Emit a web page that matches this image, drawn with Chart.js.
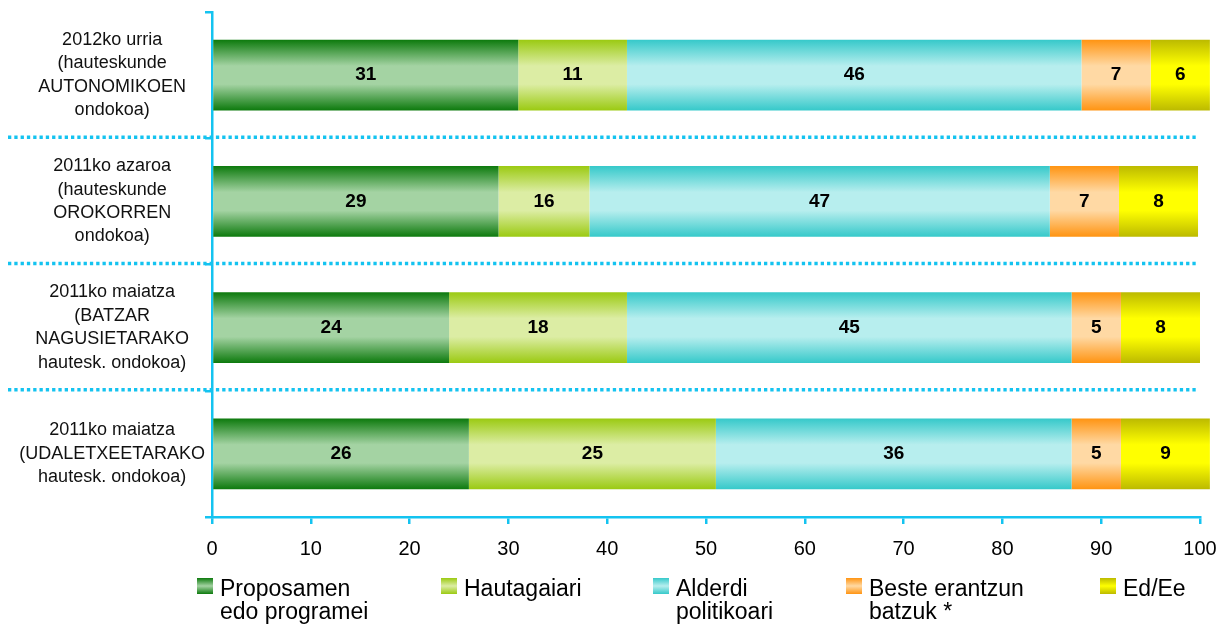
<!DOCTYPE html>
<html>
<head>
<meta charset="utf-8">
<script src="https://cdn.jsdelivr.net/npm/chart.js@4.4.1/dist/chart.umd.min.js"></script>
<style>
  html, body { margin: 0; padding: 0; background: #fff; }
  #wrap { width: 1225px; height: 627px; position: relative; }
</style>
</head>
<body>
<div id="wrap"><canvas id="chart"></canvas></div>
<script>
// categories (multi-line, as in the original)
const categories = [
  ['2012ko urria', '(hauteskunde', 'AUTONOMIKOEN', 'ondokoa)'],
  ['2011ko azaroa', '(hauteskunde', 'OROKORREN', 'ondokoa)'],
  ['2011ko maiatza', '(BATZAR', 'NAGUSIETARAKO', 'hautesk. ondokoa)'],
  ['2011ko maiatza', '(UDALETXEETARAKO', 'hautesk. ondokoa)']
];
const seriesNames = [
  ['Proposamen', 'edo programei'],
  ['Hautagaiari'],
  ['Alderdi', 'politikoari'],
  ['Beste erantzun', 'batzuk *'],
  ['Ed/Ee']
];

// segment lengths as drawn
const proposamen = [31, 29, 24, 26];
const hautagaiari = [11, 9.2, 18, 25];
const alderdi = [46, 46.6, 45, 36];
const beste = [7, 7, 5, 5];
const edEe = [6, 8, 8, 9];

// numbers printed inside the segments
const proposamenTxt = [31, 29, 24, 26];
const hautagaiariTxt = [11, 16, 18, 25];
const alderdiTxt = [46, 47, 45, 36];
const besteTxt = [7, 7, 5, 5];
const edEeTxt = [6, 8, 8, 9];

const xTicks = [0, 10, 20, 30, 40, 50, 60, 70, 80, 90, 100];

const FONT = '"Liberation Sans", Arial, Helvetica, sans-serif';
const CYAN = '#14c3f0';
const BAR_PCT = 0.56;

// dark edge / light middle for each series
const colors = [
  ['#0d7a0d', '#a4d3a3'],
  ['#9bca12', '#dcedA4'],
  ['#36c9ca', '#b7eeee'],
  ['#ff9412', '#ffd9a4'],
  ['#bcba00', '#ffff00']
];

function gradientFill(i) {
  return (ctx) => {
    const chart = ctx.chart;
    const y = chart.scales && chart.scales.y;
    if (ctx.type !== 'data' || !y || !y.height) return colors[i][0];
    const c = y.getPixelForValue(ctx.dataIndex);
    const half = y.height / categories.length * BAR_PCT / 2;
    const g = chart.ctx.createLinearGradient(0, c - half, 0, c + half);
    g.addColorStop(0, colors[i][0]);
    g.addColorStop(0.37, colors[i][1]);
    g.addColorStop(0.63, colors[i][1]);
    g.addColorStop(1, colors[i][0]);
    return g;
  };
}

const values = [proposamen, hautagaiari, alderdi, beste, edEe];
const texts = [proposamenTxt, hautagaiariTxt, alderdiTxt, besteTxt, edEeTxt];

// dotted separators between the categories
const separators = {
  id: 'separators',
  afterDraw(chart) {
    const y = chart.scales.y;
    const c = chart.ctx;
    c.save();
    c.strokeStyle = CYAN;
    c.lineWidth = 3.3;
    c.setLineDash([3.3, 3]);
    for (let i = 0; i < categories.length - 1; i++) {
      const py = (y.getPixelForValue(i) + y.getPixelForValue(i + 1)) / 2 - 1;
      c.beginPath();
      c.moveTo(8, py);
      c.lineTo(chart.chartArea.right - 2, py);
      c.stroke();
    }
    c.restore();
  }
};

// numbers in the middle of each segment
const segmentLabels = {
  id: 'segmentLabels',
  afterDatasetsDraw(chart) {
    const c = chart.ctx;
    c.save();
    c.font = 'bold 19px ' + FONT;
    c.fillStyle = '#000';
    c.textAlign = 'center';
    c.textBaseline = 'middle';
    chart.data.datasets.forEach((ds, i) => {
      chart.getDatasetMeta(i).data.forEach((bar, j) => {
        c.fillText(String(texts[i][j]), (bar.x + bar.base) / 2, bar.y);
      });
    });
    c.restore();
  }
};

// legend with wrapped names
const legendPos = [197, 441, 653, 846, 1100];
const customLegend = {
  id: 'customLegend',
  afterDraw(chart) {
    const c = chart.ctx;
    c.save();
    seriesNames.forEach((lines, i) => {
      const x = legendPos[i], y = 578;
      const g = c.createLinearGradient(0, y, 0, y + 16);
      g.addColorStop(0, colors[i][0]);
      g.addColorStop(0.5, colors[i][1]);
      g.addColorStop(1, colors[i][0]);
      c.fillStyle = g;
      c.fillRect(x, y, 16, 16);
      c.font = '23px ' + FONT;
      c.fillStyle = '#000';
      c.textAlign = 'left';
      c.textBaseline = 'alphabetic';
      lines.forEach((t, k) => c.fillText(t, x + 23, 596 + k * 22.5));
    });
    c.restore();
  }
};

new Chart(document.getElementById('chart'), {
  type: 'bar',
  data: {
    labels: categories,
    datasets: values.map((v, i) => ({
      label: seriesNames[i].join(' '),
      data: v,
      backgroundColor: gradientFill(i),
      borderWidth: 0,
      barPercentage: BAR_PCT,
      categoryPercentage: 1,
      clip: false
    }))
  },
  options: {
    indexAxis: 'y',
    responsive: true,
    maintainAspectRatio: false,
    animation: false,
    layout: { padding: { top: 12, right: 25, left: 0, bottom: 0 } },
    plugins: {
      legend: { display: false },
      tooltip: { enabled: false }
    },
    scales: {
      x: {
        stacked: true,
        min: 0,
        max: 100,
        afterBuildTicks(scale) { scale.ticks = xTicks.map(v => ({ value: v })); },
        afterFit(scale) { scale.height = 110; scale.paddingLeft = 0; scale.paddingRight = 0; },
        border: { color: CYAN, width: 2.5 },
        grid: { drawOnChartArea: false, color: CYAN, lineWidth: 2.5, tickLength: 7 },
        ticks: { color: '#000', font: { family: FONT, size: 20 }, padding: 13, maxRotation: 0 }
      },
      y: {
        stacked: true,
        afterFit(scale) { scale.width = 212; scale.paddingTop = 0; scale.paddingBottom = 0; },
        border: { color: CYAN, width: 2.5 },
        grid: { offset: true, drawOnChartArea: false, color: CYAN, lineWidth: 2.5, tickLength: 7 },
        ticks: {
          color: '#111',
          font: { family: FONT, size: 18, lineHeight: 1.3 },
          crossAlign: 'center',
          padding: 0
        }
      }
    }
  },
  plugins: [separators, segmentLabels, customLegend]
});
</script>
</body>
</html>
